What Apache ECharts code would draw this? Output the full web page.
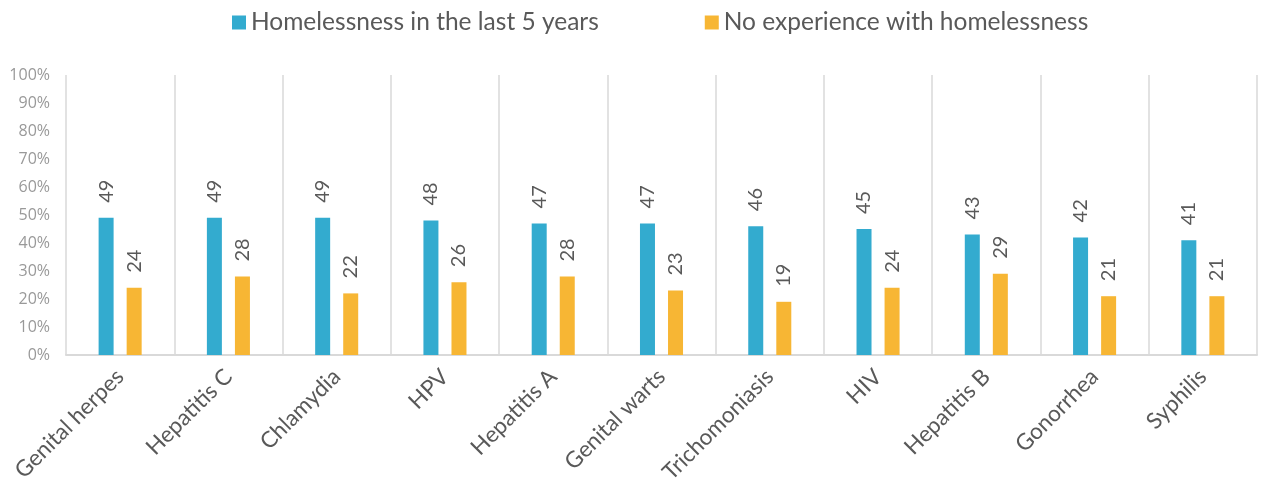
<!DOCTYPE html>
<html>
<head>
<meta charset="utf-8">
<script src="https://cdn.jsdelivr.net/npm/echarts@6/dist/echarts.min.js"></script>
<style>html,body{margin:0;padding:0;background:#fff}#c{width:1264px;height:487px}</style>
</head>
<body>
<div id="c"></div>
<script>
const categories = ["Genital herpes","Hepatitis C","Chlamydia","HPV","Hepatitis A","Genital warts","Trichomoniasis","HIV","Hepatitis B","Gonorrhea","Syphilis"];
const seriesNames = ["Homelessness in the last 5 years","No experience with homelessness"];
const homeless = [49,49,49,48,47,47,46,45,43,42,41];
const noHomeless = [24,28,22,26,28,23,19,24,29,21,21];
const yTicks = [0,10,20,30,40,50,60,70,80,90,100];

const chart = echarts.init(document.getElementById('c'));
const labelCfg = {
  show: true, position: 'top', rotate: 90, align: 'left', verticalAlign: 'middle',
  distance: 15, color: '#595959', fontSize: 20, fontFamily: 'Lato'
};
chart.setOption({
  animation: false,
  textStyle: { fontFamily: 'Lato' },
  legend: {
    data: seriesNames, top: 5, left: 227, itemWidth: 14, itemHeight: 14, itemGap: 106,
    icon: 'rect', textStyle: { fontSize: 24.5, color: '#595959', fontFamily: 'Lato' }
  },
  grid: { left: 66, right: 7, top: 75, bottom: 132, containLabel: false },
  xAxis: {
    type: 'category', data: categories,
    axisLine: { lineStyle: { color: '#d9d9d9', width: 2 } },
    axisTick: { show: false },
    splitLine: { show: true, lineStyle: { color: '#d9d9d9', width: 1.5 } },
    axisLabel: { rotate: 45, fontSize: 22.5, color: '#595959', margin: 18, interval: 0, fontFamily: 'Lato' }
  },
  yAxis: {
    type: 'value', min: 0, max: 100, interval: 10,
    axisLine: { show: false }, axisTick: { show: false }, splitLine: { show: false },
    axisLabel: { formatter: v => yTicks.includes(v) ? v + '%' : '', fontSize: 16, color: '#999999', margin: 16, fontFamily: 'Open Sans' }
  },
  series: [
    { name: seriesNames[0], type: 'bar', data: homeless, barWidth: 15, barGap: '87%',
      itemStyle: { color: '#33ABCF' }, label: labelCfg },
    { name: seriesNames[1], type: 'bar', data: noHomeless, barWidth: 15,
      itemStyle: { color: '#F7B634' }, label: labelCfg }
  ]
});
</script>
</body>
</html>
